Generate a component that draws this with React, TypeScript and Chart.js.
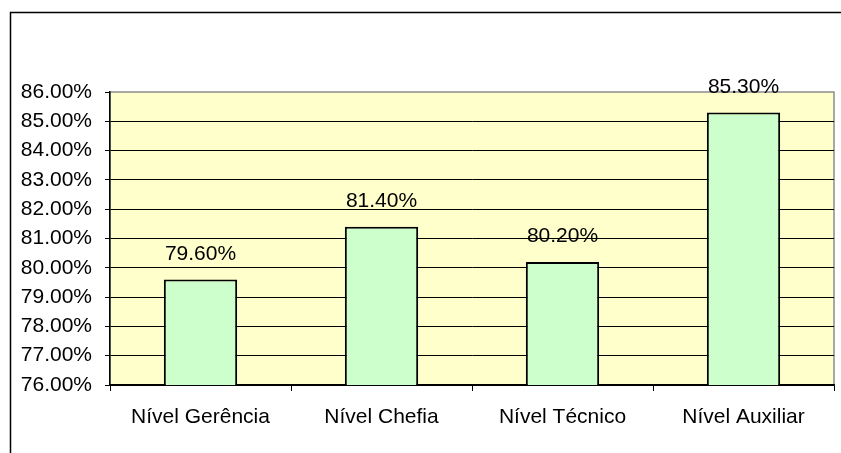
import React, { useEffect, useRef } from "react";
import { Chart, registerables } from "chart.js";

Chart.register(...registerables);

const categories = ["Nível Gerência", "Nível Chefia", "Nível Técnico", "Nível Auxiliar"];
const values = [79.6, 81.4, 80.2, 85.3];
const yMin = 76;
const yMax = 86;
const yStep = 1;

const FONT = "'Liberation Sans', Arial, sans-serif";

export default function App() {
  const ref = useRef<HTMLCanvasElement | null>(null);

  useEffect(() => {
    if (!ref.current) return;
    const framePlugin = {
      id: "frame",
      beforeDraw(chart: any) {
        const { ctx, chartArea } = chart;
        ctx.save();
        ctx.fillStyle = "#FFFFCC";
        ctx.fillRect(chartArea.left, chartArea.top, chartArea.right - chartArea.left, chartArea.bottom - chartArea.top);
        ctx.strokeStyle = "#8c8c8c";
        ctx.lineWidth = 1.5;
        ctx.strokeRect(chartArea.left, chartArea.top, chartArea.right - chartArea.left, chartArea.bottom - chartArea.top);
        ctx.strokeStyle = "#000";
        ctx.lineWidth = 1.5;
        ctx.beginPath();
        ctx.moveTo(10.5, chart.height);
        ctx.lineTo(10.5, 12.5);
        ctx.lineTo(chart.width, 12.5);
        ctx.stroke();
        ctx.restore();
      },
      afterDatasetsDraw(chart: any) {
        const { ctx } = chart;
        const meta = chart.getDatasetMeta(0);
        ctx.save();
        ctx.font = `21px ${FONT}`;
        ctx.fillStyle = "#000";
        ctx.textAlign = "center";
        ctx.textBaseline = "alphabetic";
        meta.data.forEach((bar: any, i: number) => {
          ctx.fillText(values[i].toFixed(2) + "%", bar.x, bar.y - 20);
        });
        ctx.restore();
      },
    };

    const chart = new Chart(ref.current, {
      type: "bar",
      data: {
        labels: categories,
        datasets: [
          {
            data: values,
            backgroundColor: "#CCFFCC",
            borderColor: "#000",
            borderWidth: 2,
            borderSkipped: false,
            barPercentage: 0.405,
            categoryPercentage: 1,
          },
        ],
      },
      options: {
        animation: false,
        responsive: false,
        maintainAspectRatio: false,
        layout: { padding: { top: 92, right: 7, left: 0, bottom: 0 } },
        plugins: { legend: { display: false }, tooltip: { enabled: false } },
        scales: {
          x: {
            grid: { drawOnChartArea: false, drawTicks: true, tickLength: 6, color: "#000", offset: true },
            border: { display: true, color: "#000", width: 1.5 },
            ticks: { color: "#000", font: { family: FONT, size: 21 }, padding: 14, maxRotation: 0 },
            afterFit(scale: any) {
              scale.height = 68;
            },
          },
          y: {
            min: yMin,
            max: yMax,
            ticks: {
              stepSize: yStep,
              color: "#000",
              font: { family: FONT, size: 21 },
              padding: 13,
              callback: (v: any) => Number(v).toFixed(2) + "%",
            },
            grid: {
              color: (c: any) => (c.tick && c.tick.value === yMax ? "rgba(0,0,0,0)" : "#000"),
              tickColor: "#000",
              tickLength: 5,
              lineWidth: 1,
            },
            border: { display: true, color: "#000", width: 1.5 },
            afterFit(scale: any) {
              scale.width = 110;
            },
          },
        },
      },
      plugins: [framePlugin],
    });
    return () => chart.destroy();
  }, []);

  return (
    <div style={{ position: "fixed", left: 0, top: 0, width: 841, height: 453, background: "#fff" }}>
      <canvas ref={ref} width={841} height={453} style={{ width: 841, height: 453 }} />
    </div>
  );
}
